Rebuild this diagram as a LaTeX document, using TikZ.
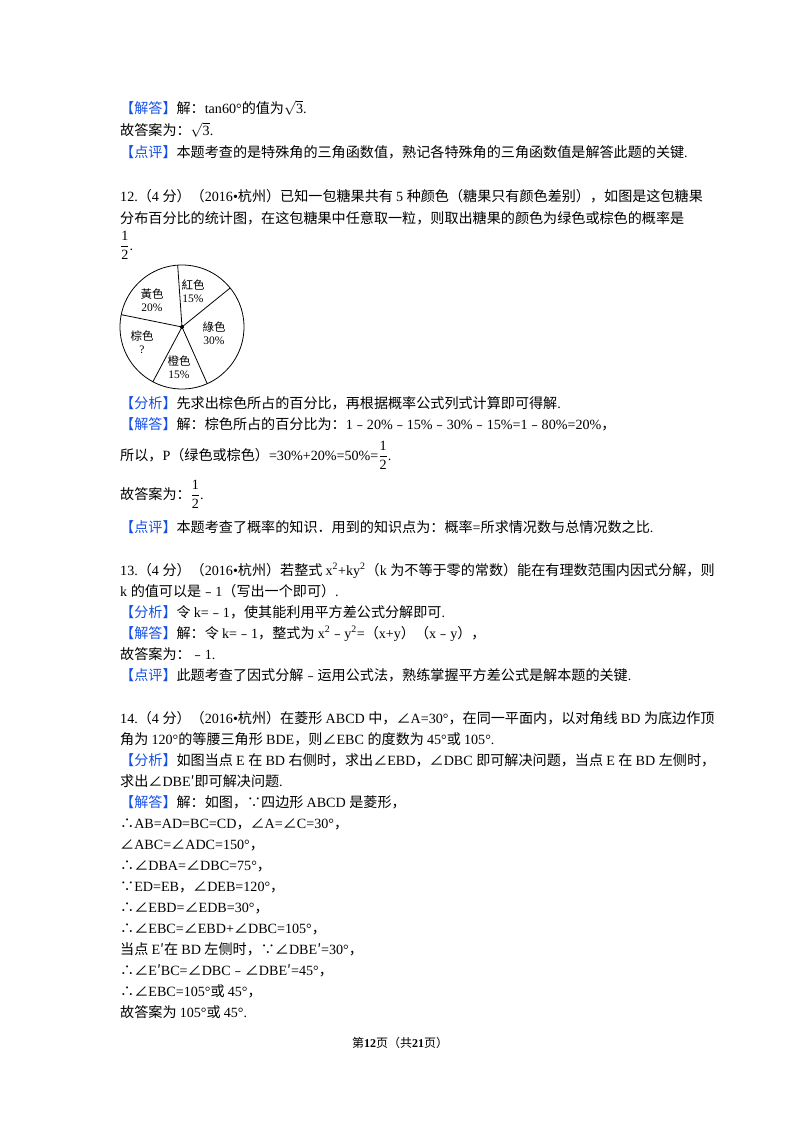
\documentclass[tikz,border=0pt]{standalone}
\usepackage{fontspec}
\usepackage{xcolor}
\setmainfont{Liberation Serif}
\setsansfont{Liberation Sans}
\newfontfamily\cjk{Noto Sans CJK SC}
\definecolor{lblue}{RGB}{20,80,230}
\XeTeXinterchartokenstate=1
\newXeTeXintercharclass\cjkclass
\newcount\myc
\def\setrange#1#2{\myc=#1\relax\loop\XeTeXcharclass\myc=\cjkclass\advance\myc by 1\relax\ifnum\myc<#2\repeat}
\setrange{"4E00}{"A000}
\setrange{"3000}{"3040}
\setrange{"FF00}{"FFF0}
\setrange{"FE30}{"FE70}
\XeTeXcharclass"2220=\cjkclass
\XeTeXcharclass"2234=\cjkclass
\XeTeXcharclass"2235=\cjkclass
\XeTeXcharclass"2032=\cjkclass
\XeTeXinterchartoks 0 \cjkclass={\cjk}
\XeTeXinterchartoks 4095 \cjkclass={\cjk}
\XeTeXinterchartoks \cjkclass 0={\rmfamily}
\XeTeXinterchartoks 4095 0={\rmfamily}
\newcommand{\lab}[1]{{\color{lblue}【#1】}}
\newcommand{\hf}{$\displaystyle\frac{\textsf{1}}{\textsf{2}}$}
\begin{document}
\begin{tikzpicture}[x=1pt,y=-1pt,
  ln/.style={anchor=base west,inner sep=0pt,font=\fontsize{14.1}{16}\selectfont},
  pl/.style={inner sep=0pt,font=\fontsize{11.5}{13.5}\selectfont}]
\useasboundingbox[fill=white] (0,0) rectangle (800,1132);
\node[ln] (l1) at (120,113) {\lab{解答}解：tan60°的值为$\sqrt{\textsf{3}}$.};
\node[ln] (l2) at (120,135) {故答案为：$\sqrt{\textsf{3}}$.};
\node[ln] (l3) at (120,157) {\lab{点评}本题考查的是特殊角的三角函数值，熟记各特殊角的三角函数值是解答此题的关键.};
\node[ln] (l4) at (120,201) {12.（4 分）（2016•杭州）已知一包糖果共有 5 种颜色（糖果只有颜色差别），如图是这包糖果};
\node[ln] (l5) at (120,223) {分布百分比的统计图，在这包糖果中任意取一粒，则取出糖果的颜色为绿色或棕色的概率是};
\node[ln] (l6) at (120,250) {\hf.};
\coordinate (c) at (182,327);
\draw[line width=0.8pt] (c) circle (62);
\foreach \a in {94,39,-66,-118,168.5} \draw[line width=0.8pt] (c) -- ++({62*cos(\a)},{-62*sin(\a)});
\fill (c) circle (2);
\node[pl,align=center] (p1) at (152,300) {黃色\\20\%};
\node[pl,align=center] (p2) at (193,291) {紅色\\15\%};
\node[pl,align=center] (p3) at (214,333) {綠色\\30\%};
\node[pl,align=center] (p4) at (142,342) {棕色\\?};
\node[pl,align=center] (p5) at (179,367) {橙色\\15\%};
\node[ln] (m1) at (120,408) {\lab{分析}先求出棕色所占的百分比，再根据概率公式列式计算即可得解.};
\node[ln] (m2) at (120,429) {\lab{解答}解：棕色所占的百分比为：1﹣20\%﹣15\%﹣30\%﹣15\%=1﹣80\%=20\%，};
\node[ln] (m3) at (120,460) {所以，P（绿色或棕色）=30\%+20\%=50\%=\hf.};
\node[ln] (m4) at (120,499) {故答案为：\hf.};
\node[ln] (m5) at (120,532) {\lab{点评}本题考查了概率的知识．用到的知识点为：概率=所求情况数与总情况数之比.};
\node[ln] (n1) at (120,575) {13.（4 分）（2016•杭州）若整式 x\textsuperscript{2}+ky\textsuperscript{2}（k 为不等于零的常数）能在有理数范围内因式分解，则};
\node[ln] (n2) at (120,596) {k 的值可以是﹣1（写出一个即可）.};
\node[ln] (n3) at (120,617) {\lab{分析}令 k=﹣1，使其能利用平方差公式分解即可.};
\node[ln] (n4) at (120,638) {\lab{解答}解：令 k=﹣1，整式为 x\textsuperscript{2}﹣y\textsuperscript{2}=（x+y）（x﹣y），};
\node[ln] (n5) at (120,659) {故答案为：﹣1.};
\node[ln] (n6) at (120,680) {\lab{点评}此题考查了因式分解﹣运用公式法，熟练掌握平方差公式是解本题的关键.};
\node[ln] (q1) at (120,723) {14.（4 分）（2016•杭州）在菱形 ABCD 中，∠A=30°，在同一平面内，以对角线 BD 为底边作顶};
\node[ln] (q2) at (120,744) {角为 120°的等腰三角形 BDE，则∠EBC 的度数为 45°或 105°.};
\node[ln] (q3) at (120,765) {\lab{分析}如图当点 E 在 BD 右侧时，求出∠EBD，∠DBC 即可解决问题，当点 E 在 BD 左侧时，};
\node[ln] (q4) at (120,786) {求出∠DBE′即可解决问题.};
\node[ln] (q5) at (120,807) {\lab{解答}解：如图，∵四边形 ABCD 是菱形，};
\node[ln] (q6) at (120,828) {∴AB=AD=BC=CD，∠A=∠C=30°，};
\node[ln] (q7) at (120,849) {∠ABC=∠ADC=150°，};
\node[ln] (q8) at (120,870) {∴∠DBA=∠DBC=75°，};
\node[ln] (q9) at (120,891) {∵ED=EB，∠DEB=120°，};
\node[ln] (q10) at (120,912) {∴∠EBD=∠EDB=30°，};
\node[ln] (q11) at (120,933) {∴∠EBC=∠EBD+∠DBC=105°，};
\node[ln] (q12) at (120,954) {当点 E′在 BD 左侧时，∵∠DBE′=30°，};
\node[ln] (q13) at (120,975) {∴∠E′BC=∠DBC﹣∠DBE′=45°，};
\node[ln] (q14) at (120,996) {∴∠EBC=105°或 45°，};
\node[ln] (q15) at (120,1017) {故答案为 105°或 45°.};
\node[inner sep=0pt,font=\fontsize{12}{14}\selectfont] (ft) at (400,1043) {第\textsf{\bfseries 12}页（共\textsf{\bfseries 21}页）};
\end{tikzpicture}
\end{document}
